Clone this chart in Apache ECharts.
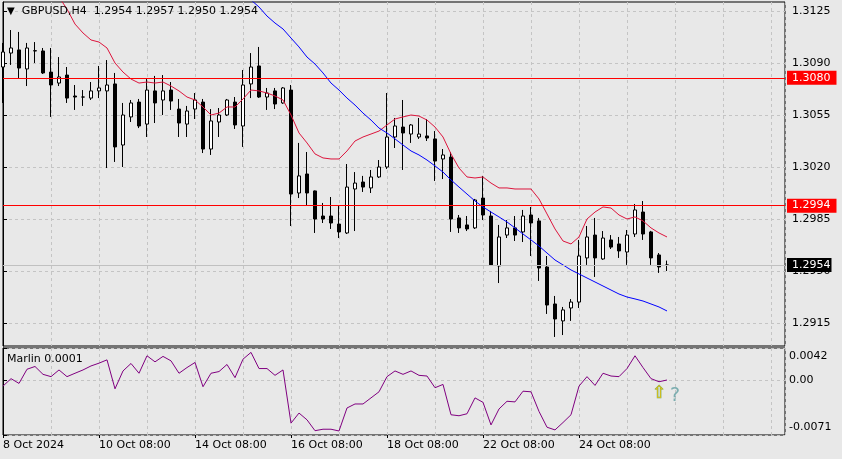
<!DOCTYPE html>
<html><head><meta charset="utf-8">
<script src="https://cdn.jsdelivr.net/npm/echarts@6/dist/echarts.min.js"></script>
<style>html,body{margin:0;padding:0;background:#e8e8e8;}#c{width:842px;height:459px;}</style>
</head><body><div id="c"></div>
<script>
const symbolName = 'GBPUSD';
const timeframe = 'H4';
const timeLabels = ['8 Oct 2024','10 Oct 08:00','14 Oct 08:00','16 Oct 08:00','18 Oct 08:00','22 Oct 08:00','24 Oct 08:00'];
const timeLabelBars = [0,12,24,36,48,60,72];
const priceTicks = [1.2915,1.2950,1.2985,1.3020,1.3055,1.3090,1.3125];
const marlinTicks = [-0.0071,0,0.0042];
const levels = [1.3080,1.2994];

const opens = [1.30873,1.30967,1.30988,1.30860,1.30981,1.30981,1.30839,1.30765,1.30819,1.30678,
1.30671,1.30664,1.30712,1.30712,1.30759,1.30348,1.30537,1.30637,1.30489,1.30712,
1.30651,1.30718,1.30590,1.30489,1.30590,1.30637,1.30321,1.30503,1.30550,1.30637,
1.30476,1.30759,1.30880,1.30671,1.30712,1.30631,1.30718,1.30025,1.30153,1.30039,
1.29870,1.29870,1.29816,1.29756,1.30052,1.30099,1.30059,1.30133,1.30200,1.30402,
1.30469,1.30422,1.30402,1.30409,1.30389,1.30254,1.30267,1.29857,1.29810,1.29790,
1.29991,1.29870,1.29534,1.29742,1.29790,1.29763,1.29877,1.29837,1.29527,1.29278,
1.29164,1.29251,1.29291,1.29588,1.29742,1.29581,1.29709,1.29682,1.29628,1.29749,
1.29897,1.29763,1.29608,1.29540];
const highs = [1.31035,1.31122,1.31109,1.31035,1.31041,1.31001,1.31001,1.30940,1.30873,1.30752,
1.30718,1.30772,1.30880,1.30920,1.30833,1.30631,1.30651,1.30658,1.30792,1.30813,
1.30819,1.30772,1.30658,1.30611,1.30698,1.30658,1.30590,1.30597,1.30658,1.30671,
1.30853,1.30967,1.31008,1.30732,1.30732,1.30738,1.30752,1.30362,1.30301,1.30042,
1.29958,1.29998,1.29944,1.30220,1.30166,1.30140,1.30180,1.30247,1.30698,1.30530,
1.30651,1.30489,1.30530,1.30523,1.30442,1.30321,1.30301,1.29877,1.29870,1.29985,
1.30140,1.29904,1.29810,1.29843,1.29870,1.29911,1.29931,1.29857,1.29601,1.29332,
1.29258,1.29311,1.29709,1.29803,1.29857,1.29769,1.29742,1.29729,1.29776,1.29951,
1.29971,1.29770,1.29621,1.29570];
const lows = [1.30631,1.30887,1.30799,1.30745,1.30900,1.30826,1.30537,1.30745,1.30631,1.30584,
1.30611,1.30651,1.30664,1.30193,1.30234,1.30200,1.30503,1.30462,1.30402,1.30496,
1.30550,1.30584,1.30402,1.30402,1.30523,1.30294,1.30281,1.30402,1.30543,1.30456,
1.30335,1.30664,1.30665,1.30584,1.30590,1.30625,1.29803,1.29991,1.29938,1.29756,
1.29823,1.29783,1.29722,1.29749,1.29769,1.30032,1.30025,1.30126,1.30187,1.30328,
1.30180,1.30362,1.30389,1.30375,1.30106,1.30119,1.29763,1.29756,1.29769,1.29783,
1.29843,1.29535,1.29419,1.29722,1.29702,1.29695,1.29601,1.29433,1.29211,1.29056,
1.29069,1.29164,1.29251,1.29541,1.29460,1.29575,1.29648,1.29588,1.29541,1.29729,
1.29709,1.29541,1.29487,1.29500];
const closes = [1.30974,1.31001,1.30866,1.31001,1.30983,1.30833,1.30752,1.30806,1.30664,1.30671,
1.30671,1.30712,1.30732,1.30752,1.30335,1.30550,1.30631,1.30476,1.30718,1.30631,
1.30712,1.30644,1.30496,1.30577,1.30651,1.30321,1.30510,1.30550,1.30651,1.30483,
1.30752,1.30873,1.30671,1.30698,1.30624,1.30732,1.30018,1.30140,1.30025,1.29850,
1.29850,1.29823,1.29763,1.30065,1.30092,1.30065,1.30133,1.30200,1.30402,1.30476,
1.30429,1.30483,1.30422,1.30395,1.30240,1.30281,1.29850,1.29790,1.29783,1.29978,
1.29877,1.29541,1.29729,1.29790,1.29742,1.29870,1.29823,1.29520,1.29271,1.29177,
1.29238,1.29291,1.29601,1.29729,1.29588,1.29722,1.29661,1.29635,1.29742,1.29911,
1.29749,1.29588,1.29527,1.29540];

const redMA = [null,null,null,null,null,null,null,1.31344,1.31263,1.31162,
1.31102,1.31055,1.31041,1.31001,1.30900,1.30839,1.30792,1.30765,1.30772,1.30765,
1.30772,1.30745,1.30712,1.30671,1.30651,1.30604,1.30550,1.30563,1.30604,1.30604,
1.30658,1.30718,1.30712,1.30698,1.30678,1.30651,1.30550,1.30429,1.30362,1.30288,
1.30261,1.30254,1.30254,1.30308,1.30375,1.30402,1.30422,1.30442,1.30483,1.30523,
1.30537,1.30550,1.30543,1.30516,1.30469,1.30402,1.30288,1.30193,1.30133,1.30126,
1.30133,1.30092,1.30059,1.30059,1.30052,1.30052,1.30052,1.29985,1.29884,1.29783,
1.29702,1.29682,1.29729,1.29850,1.29897,1.29931,1.29924,1.29877,1.29850,1.29864,
1.29837,1.29790,1.29756,1.29729];
const blueMA = [null,null,null,null,null,null,null,null,null,null,
null,null,null,null,null,null,null,null,null,null,
null,null,null,null,null,null,null,null,null,null,
1.31371,1.31324,1.31277,1.31216,1.31169,1.31129,1.31068,1.31008,1.30940,1.30893,
1.30833,1.30765,1.30718,1.30664,1.30617,1.30563,1.30516,1.30462,1.30429,1.30389,
1.30348,1.30308,1.30281,1.30247,1.30207,1.30166,1.30113,1.30065,1.30018,1.29971,
1.29931,1.29897,1.29864,1.29830,1.29790,1.29749,1.29709,1.29668,1.29621,1.29574,
1.29541,1.29507,1.29480,1.29453,1.29426,1.29399,1.29372,1.29345,1.29325,1.29312,
1.29298,1.29278,1.29258,1.29231];
const marlin = [-0.00075,0.00022,-0.00040,0.00144,0.00180,0.00078,0.00048,0.00135,0.00048,0.00092,
0.00135,0.00187,0.00223,0.00266,-0.00110,0.00122,0.00219,0.00092,0.00319,0.00240,
0.00311,0.00253,0.00092,0.00166,0.00232,-0.00083,0.00092,0.00114,0.00206,0.00035,
0.00275,0.00363,0.00153,0.00153,0.00065,0.00135,-0.00556,-0.00425,-0.00513,-0.00654,
-0.00635,-0.00635,-0.00658,-0.00359,-0.00307,-0.00307,-0.00228,-0.00149,0.00048,0.00122,
0.00078,0.00122,0.00065,0.00056,-0.00096,-0.00053,-0.00447,-0.00460,-0.00434,-0.00228,
-0.00286,-0.00579,-0.00372,-0.00272,-0.00280,-0.00141,-0.00149,-0.00404,-0.00609,-0.00644,
-0.00548,-0.00447,-0.00075,0.00048,-0.00066,0.00092,0.00056,0.00048,0.00153,0.00319,
0.00166,0.00022,-0.00018,0.00004];
const signalBars = [82,84];
const signalValues = [-0.00178,-0.00204];
const signalTexts = ['⇧','?'];

const N = closes.length;
const xMax = 782/8;
const priceMin = 1.289952, priceMax = 1.313106;
const FONT = 'DejaVu Sans';
const gridColor = '#c4c4c4';
const pairs = arr => arr.map((v,i)=>[i, v]);
const candleData = closes.map((c,i)=>[i, opens[i], c, lows[i], highs[i]]);
const last = [opens[N-1],highs[N-1],lows[N-1],closes[N-1]].map(v=>v.toFixed(4)).join(' ');

const chart = echarts.init(document.getElementById('c'), null, {renderer:'canvas'});
const hiddenX = (g)=>({gridIndex:g,type:'value',min:0,max:xMax,interval:6,
  axisLine:{show:false},axisTick:{show:false},axisLabel:{show:false},
  splitLine:{show:true,lineStyle:{color:gridColor,width:1,type:[3,3]}}});
const lineLabel = (bg, pad)=>({show:true,position:'end',distance:2,color:'#fff',backgroundColor:bg,
  padding:pad,fontFamily:FONT,fontSize:11,lineHeight:13});

chart.setOption({
  animation:false,
  backgroundColor:'#e8e8e8',
  textStyle:{fontFamily:FONT,fontSize:11,color:'#000'},
  title:[
    {left:7,top:6,padding:0,text:'{t|▼}  '+symbolName+','+timeframe+'  '+last,
     textStyle:{fontFamily:FONT,fontSize:11,fontWeight:'normal',color:'#000',
       rich:{t:{fontSize:10,fontFamily:FONT,color:'#000'}}}},
    {left:7,top:354,padding:0,text:'Marlin 0.0001',
     textStyle:{fontFamily:FONT,fontSize:11,fontWeight:'normal',color:'#000'}}
  ],
  grid:[
    {left:3,right:57,top:2,height:344,show:true,backgroundColor:'#e8e8e8',borderColor:'#000',borderWidth:1},
    {left:3,right:57,top:348,height:87,show:true,backgroundColor:'#e8e8e8',borderColor:'#000',borderWidth:1}
  ],
  xAxis:[
    hiddenX(0),
    hiddenX(1),
    {gridIndex:1,type:'value',min:0,max:xMax,position:'bottom',
     axisLine:{show:false},
     axisTick:{show:true,customValues:timeLabelBars,length:3,lineStyle:{color:'#000'}},
     axisLabel:{show:true,customValues:timeLabelBars,align:'left',margin:5,color:'#000',fontFamily:FONT,fontSize:11,
       formatter:v=>timeLabels[timeLabelBars.indexOf(v)]},
     splitLine:{show:false}}
  ],
  yAxis:[
    {gridIndex:0,type:'value',position:'right',min:priceMin,max:priceMax,
     axisLine:{show:true,lineStyle:{color:'#000'}},
     axisTick:{show:true,customValues:priceTicks,length:4,lineStyle:{color:'#000'}},
     axisLabel:{customValues:priceTicks,margin:7,color:'#000',fontFamily:FONT,fontSize:11,formatter:v=>v.toFixed(4)},
     splitLine:{show:true,lineStyle:{color:gridColor,width:1,type:[3,3]}}},
    {gridIndex:1,type:'value',position:'right',min:marlinTicks[0],max:marlinTicks[2],
     axisLine:{show:true,lineStyle:{color:'#000'}},
     axisTick:{show:true,customValues:marlinTicks,length:4,lineStyle:{color:'#000'}},
     axisLabel:{customValues:marlinTicks,margin:4,color:'#000',fontFamily:FONT,fontSize:11,lineHeight:16,
       formatter:v=> v===marlinTicks[2] ? '\n'+v.toFixed(4) : (v===marlinTicks[0] ? v.toFixed(4)+'\n' : v.toFixed(2))},
     splitLine:{show:true,lineStyle:{color:gridColor,width:1,type:[3,3]}}}
  ],
  series:[
    {type:'candlestick',xAxisIndex:0,yAxisIndex:0,data:candleData,encode:{x:0,y:[1,2,3,4]},
     barWidth:4,clip:true,silent:true,
     itemStyle:{color:'#ffffff',color0:'#000000',borderColor:'#000',borderColor0:'#000',borderColorDoji:'#000',borderWidth:1}},
    {type:'line',xAxisIndex:0,yAxisIndex:0,data:pairs(redMA),showSymbol:false,symbol:'none',silent:true,
     lineStyle:{color:'#dc143c',width:1}},
    {type:'line',xAxisIndex:0,yAxisIndex:0,data:pairs(blueMA),showSymbol:false,symbol:'none',silent:true,
     lineStyle:{color:'#0000ff',width:1},
     markLine:{silent:true,symbol:['none','none'],animation:false,precision:5,
       data:[
         {yAxis:closes[N-1],lineStyle:{color:'#c0c0c0',width:1,type:'solid'},
            label:Object.assign(lineLabel('#000000',[1,1,0,5]),{formatter:closes[N-1].toFixed(4)})},
         ...levels.map(v=>({yAxis:v,lineStyle:{color:'#ff0000',width:1,type:'solid'},
            label:Object.assign(lineLabel('#ff0000',[1,6,0,5]),{formatter:v.toFixed(4)})}))
       ]}},
    {type:'line',xAxisIndex:1,yAxisIndex:1,data:pairs(marlin),showSymbol:false,symbol:'none',silent:true,
     lineStyle:{color:'#800080',width:1}},
    {type:'scatter',xAxisIndex:1,yAxisIndex:1,silent:true,symbolSize:1,itemStyle:{color:'rgba(0,0,0,0)'},
     data:signalBars.map((b,k)=>({value:[b,signalValues[k]],
       label:{show:true,position:'inside',formatter:signalTexts[k],fontFamily:FONT,
         fontSize:k===0?17:19,color:k===0?'#f0c000':'#5f9ea0',
         textBorderColor:k===0?'#4f9a2a':'transparent',textBorderWidth:k===0?0.7:0}}))}
  ]
});
</script></body></html>
